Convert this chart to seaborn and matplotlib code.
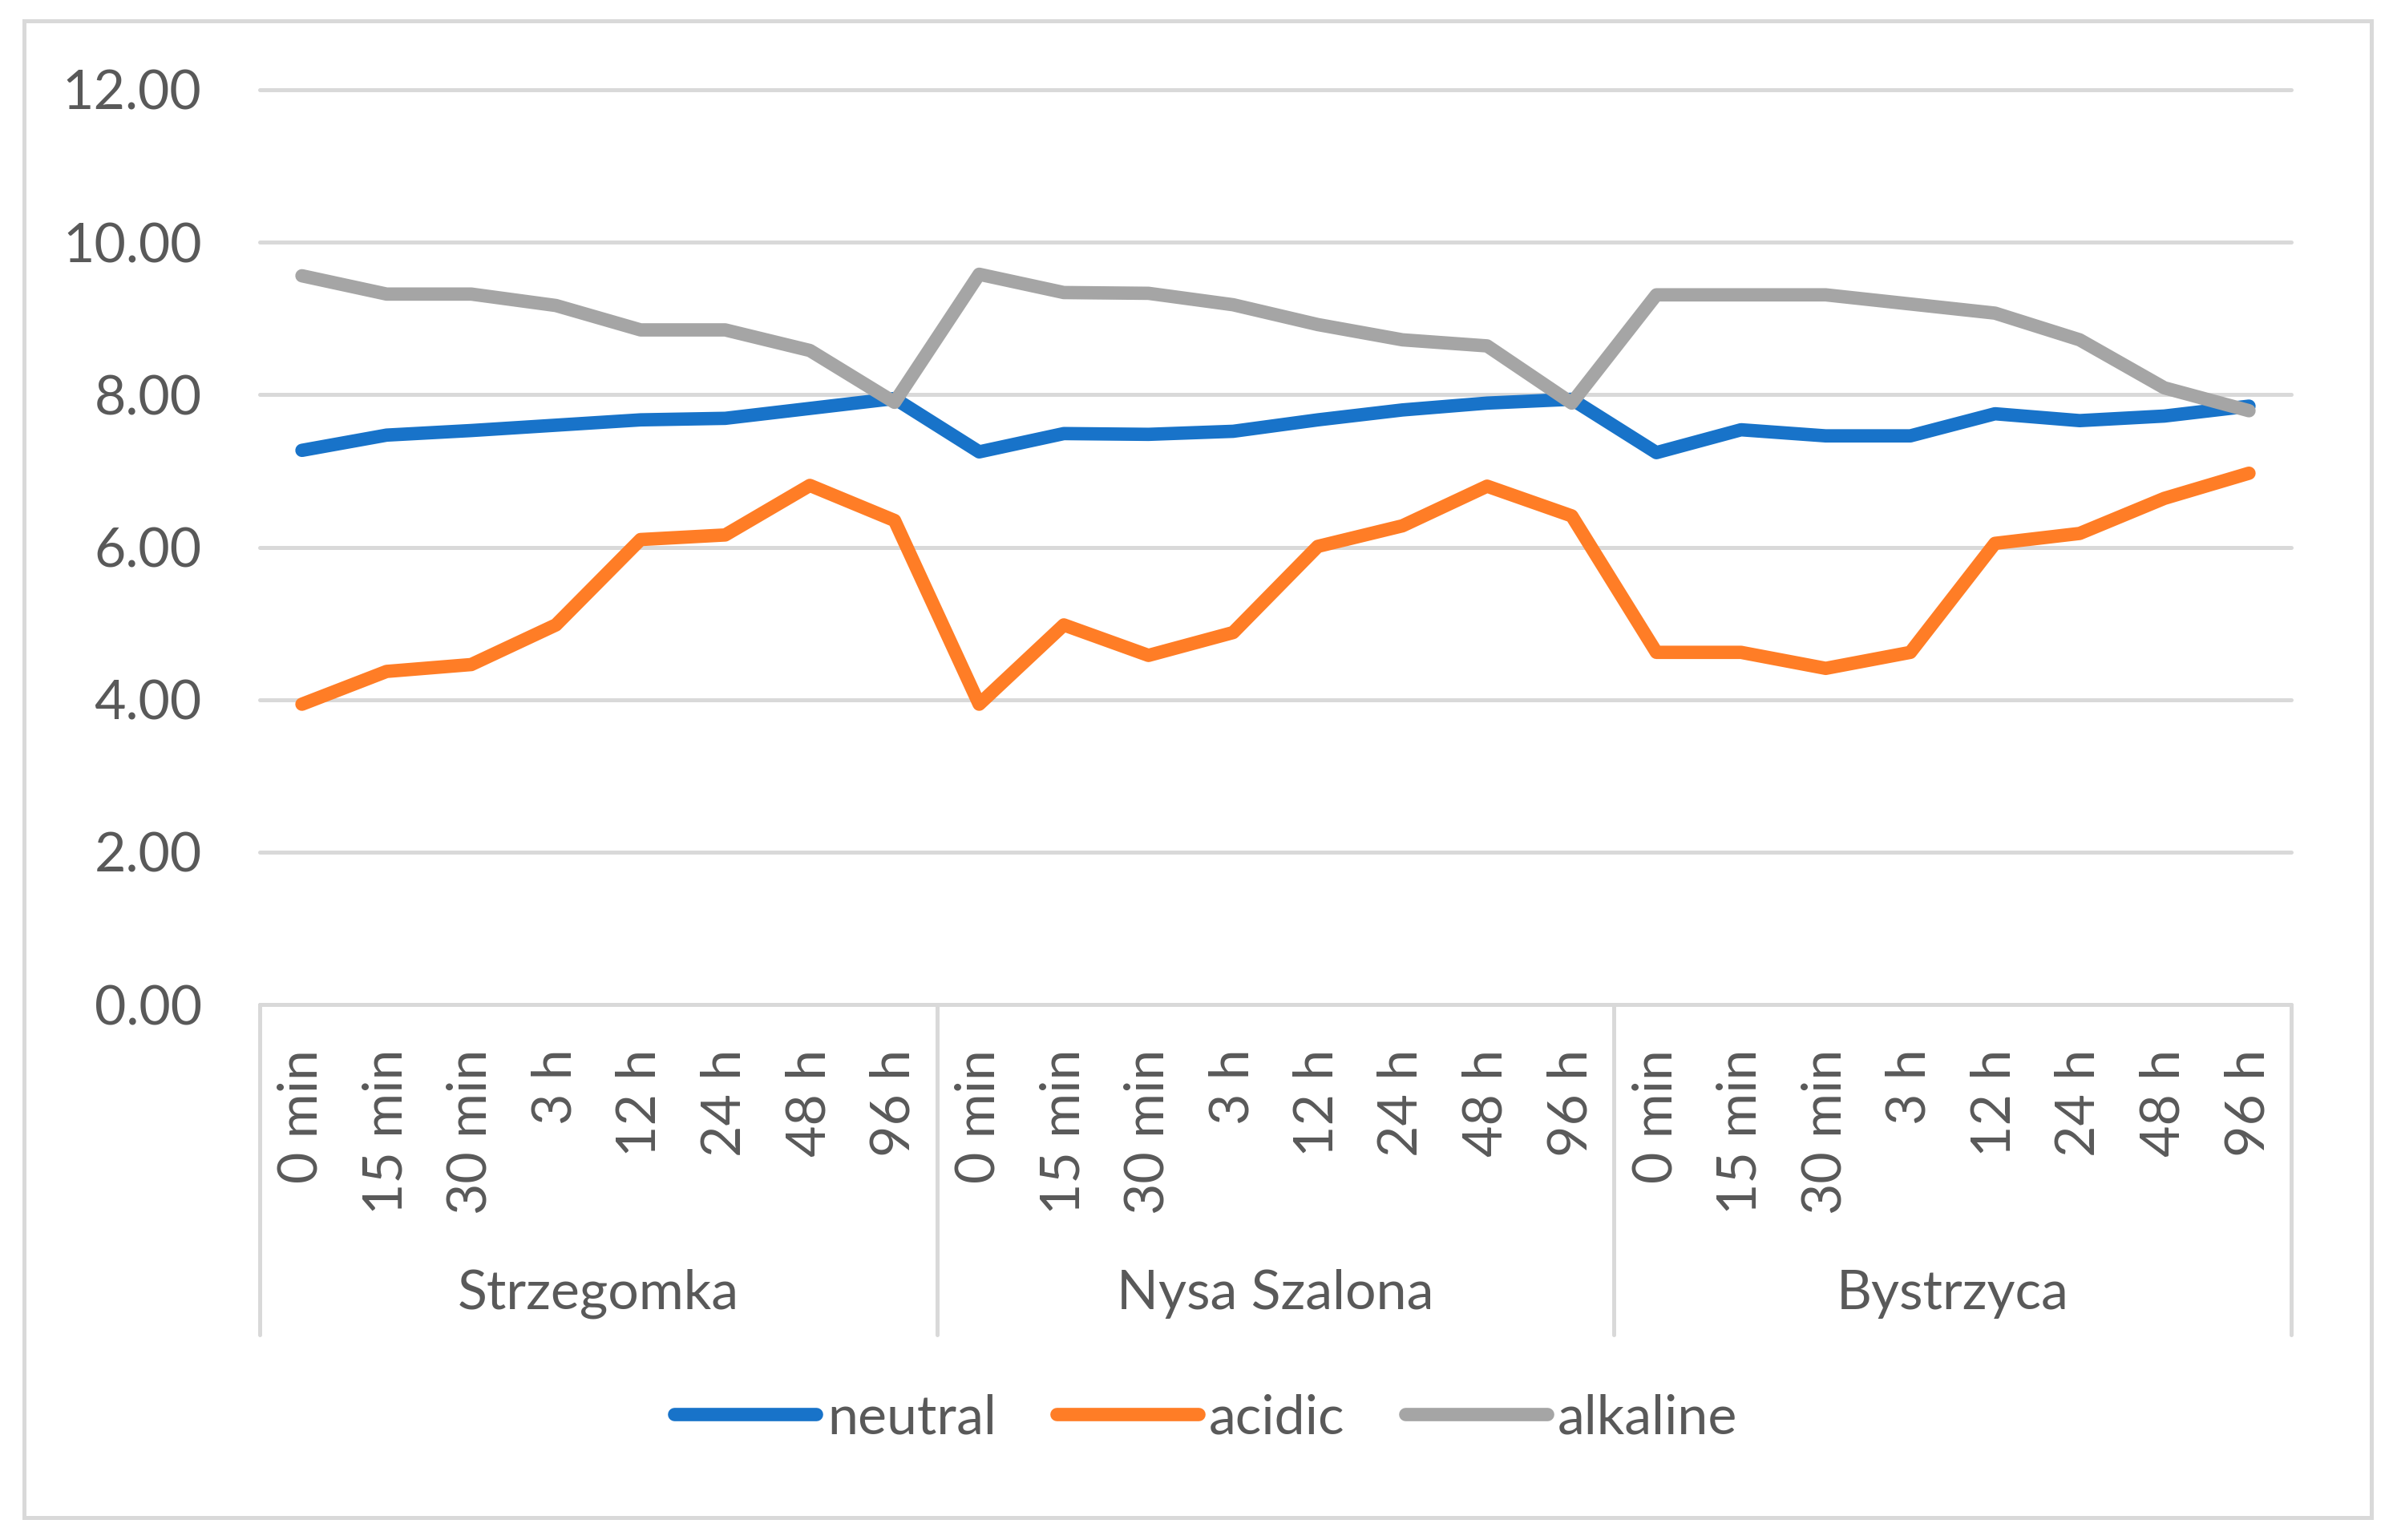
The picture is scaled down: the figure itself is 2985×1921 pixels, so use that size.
import numpy as np
import pandas as pd
import matplotlib.pyplot as plt
from matplotlib.patches import Rectangle
import seaborn as sns

# river groups and sampling times (x axis is times repeated per river)
rivers = ["Strzegomka", "Nysa Szalona", "Bystrzyca"]
times = ["0 min", "15 min", "30 min", "3 h", "12 h", "24 h", "48 h", "96 h"]

# pH values, Strzegomka / Nysa Szalona / Bystrzyca
neutral = [7.27, 7.47, 7.53, 7.60, 7.67, 7.69, 7.82, 7.95,
           7.25, 7.49, 7.48, 7.52, 7.67, 7.80, 7.89, 7.94,
           7.24, 7.54, 7.46, 7.46, 7.75, 7.66, 7.72, 7.85]
acidic = [3.94, 4.37, 4.46, 4.98, 6.10, 6.16, 6.81, 6.35,
          3.94, 4.98, 4.58, 4.88, 6.01, 6.28, 6.80, 6.41,
          4.62, 4.62, 4.41, 4.62, 6.05, 6.18, 6.64, 6.97]
alkaline = [9.56, 9.32, 9.32, 9.17, 8.85, 8.85, 8.58, 7.90,
            9.58, 9.34, 9.33, 9.18, 8.92, 8.72, 8.64, 7.89,
            9.31, 9.31, 9.31, 9.19, 9.07, 8.72, 8.09, 7.79]

series_names = ["neutral", "acidic", "alkaline"]
colors = ["#1873C9", "#FF7D26", "#A5A5A5"]
text_col = "#595959"
grid_col = "#D9D9D9"

tick_labels = [t for r in rivers for t in times]
pos = np.arange(len(tick_labels))
df = pd.concat([
    pd.DataFrame({"pos": pos, "pH": vals, "series": name})
    for name, vals in zip(series_names, [neutral, acidic, alkaline])
])

sns.set_style("white")
plt.rcParams["font.family"] = ["Lato", "DejaVu Sans"]
plt.rcParams["font.size"] = 24.5

fig = plt.figure(figsize=(14.925, 9.605), dpi=200)
ax = fig.add_axes([0.1085, 0.3477, 0.849, 0.594])

sns.lineplot(data=df, x="pos", y="pH", hue="series", palette=colors,
             linewidth=6, ax=ax, solid_joinstyle="round", solid_capstyle="round")

ax.set_xlim(-0.5, len(tick_labels) - 0.5)
ax.set_ylim(0, 12)
ax.set_yticks(np.arange(0, 12.1, 2))
ax.set_yticklabels([f"{v:.2f}" for v in np.arange(0, 12.1, 2)])
ax.set_xticks(pos)
ax.set_xticklabels(tick_labels, rotation=90)
ax.set_xlabel("")
ax.set_ylabel("")
ax.tick_params(axis="both", length=0, colors=text_col, labelsize=24.5)
ax.tick_params(axis="y", pad=26)
ax.tick_params(axis="x", pad=20)
for s in ax.spines.values():
    s.set_visible(False)
ax.yaxis.grid(True, color=grid_col, linewidth=1.8)
ax.set_axisbelow(True)
for gl in ax.get_ygridlines():
    gl.set_clip_on(False)

# category group boxes and river names under the time labels
n = len(times)
trans = ax.get_xaxis_transform()
for i in range(len(rivers) + 1):
    xb = i * n - 0.5
    ax.plot([xb, xb], [0, -0.361], transform=trans, color=grid_col,
            linewidth=1.8, clip_on=False)
for i, r in enumerate(rivers):
    ax.text(i * n + (n - 1) / 2, -0.316, r, transform=trans, ha="center",
            va="center", color=text_col, fontsize=24.5)

handles, labels = ax.get_legend_handles_labels()
ax.get_legend().remove()
fig.legend(handles, labels, loc="center", bbox_to_anchor=(0.504, 0.079), ncol=3,
           frameon=False, handlelength=2.6, handletextpad=0.2, columnspacing=1.1,
           fontsize=24.5, labelcolor=text_col)

fig.patches.append(Rectangle((0.010, 0.0146), 0.981, 0.972, transform=fig.transFigure,
                             fill=False, edgecolor=grid_col, linewidth=1.8))

fig.savefig("out.png", dpi=200, facecolor="white")
